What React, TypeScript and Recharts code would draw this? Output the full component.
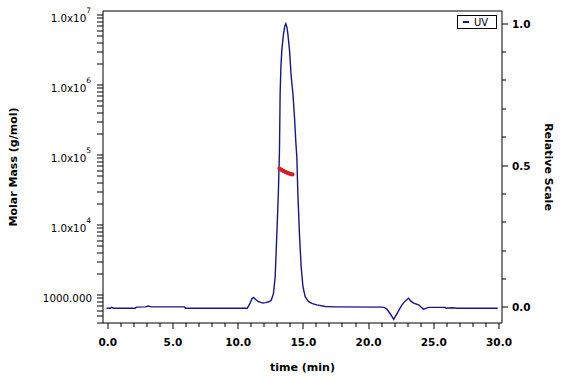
import React from "react";
import { ComposedChart, Line, XAxis, YAxis, ReferenceLine } from "recharts";

// UV trace (time in min, relative scale)
const uvTime = [
  -0.08, 0.2, 0.31, 0.45, 2.1, 2.2, 2.9, 3.1, 3.35, 5.9, 5.95, 10.7, 10.92, 11.05, 11.18,
  11.35, 11.56, 11.9, 12.1, 12.35, 12.53, 12.65, 12.71, 12.84, 12.92, 13.02, 13.09, 13.17,
  13.22, 13.28, 13.35, 13.48, 13.58, 13.66, 13.73, 13.81, 13.94, 14.07, 14.2, 14.32, 14.43,
  14.5, 14.58, 14.7, 14.83, 14.97, 15.14, 15.4, 15.7, 16.04, 16.68, 17.5, 20.99, 21.2, 21.4,
  21.7, 21.92, 22.2, 22.56, 22.8, 23.07, 23.25, 23.45, 23.84, 24.0, 24.2, 24.6, 25.9, 25.95,
  26.4, 26.8, 29.9,
];
const uvValue = [
  -0.003, -0.003, 0.0, -0.003, -0.003, 0.001, 0.002, 0.005, 0.002, 0.002, -0.003, -0.003,
  0.015, 0.03, 0.035, 0.028, 0.02, 0.015, 0.017, 0.02, 0.024, 0.04, 0.05, 0.108, 0.202, 0.32,
  0.414, 0.554, 0.754, 0.848, 0.907, 0.965, 0.992, 1.0, 0.99, 0.965, 0.907, 0.813, 0.754,
  0.672, 0.578, 0.531, 0.402, 0.261, 0.144, 0.073, 0.038, 0.02, 0.013, 0.009, 0.003, 0.002,
  0.001, 0.0, -0.006, -0.025, -0.042, -0.02, 0.009, 0.022, 0.032, 0.022, 0.015, 0.009, 0.002,
  -0.006, 0.0, 0.0, -0.003, -0.001, -0.003, -0.003,
];

// Molar mass points (time in min, g/mol)
const massTime = [13.16, 13.24, 13.32, 13.4, 13.48, 13.56, 13.64, 13.72, 13.8, 13.88, 13.96, 14.04, 14.12, 14.18];
const massValue = [64600, 63000, 61600, 60300, 59200, 58200, 57300, 56400, 55600, 54900, 54200, 53600, 53100, 52800];

// Axis ticks
const xTicks = [0, 1, 2, 3, 4, 5, 6, 7, 8, 9, 10, 11, 12, 13, 14, 15, 16, 17, 18, 19, 20, 21, 22, 23, 24, 25, 26, 27, 28, 29, 30];
const xMajor = [0, 5, 10, 15, 20, 25, 30];
const leftMajor = [1000, 10000, 100000, 1000000, 10000000];
const leftTicks = [
  400, 500, 600, 700, 800, 900, 1000,
  2000, 3000, 4000, 5000, 6000, 7000, 8000, 9000, 10000,
  20000, 30000, 40000, 50000, 60000, 70000, 80000, 90000, 100000,
  200000, 300000, 400000, 500000, 600000, 700000, 800000, 900000, 1000000,
  2000000, 3000000, 4000000, 5000000, 6000000, 7000000, 8000000, 9000000, 10000000,
];
const rightTicks = [0, 0.1, 0.2, 0.3, 0.4, 0.5, 0.6, 0.7, 0.8, 0.9, 1.0];
const rightMajor = [0, 0.5, 1.0];
const rightDomain = [-0.055, 1.045];

const uvData = uvTime.map((t, i) => ({ t, uv: uvValue[i] }));
const massData = massTime.map((t, i) => ({ t, mass: massValue[i] }));

const FONT = "'DejaVu Sans', Verdana, sans-serif";
const BLUE = "#16168c";
const RED = "#e01c1c";
const GAP = 8; // default tickSize (6) + tickMargin (2)

const renderBottomTick = (props: any) => {
  const x = Number(props.x);
  const y = Number(props.y) - GAP;
  const v = Number(props.payload.value);
  const major = xMajor.some((m) => Math.abs(m - v) < 1e-6);
  return (
    <g>
      <rect x={Math.round(x) - 0.5} y={y} width={1} height={major ? 6 : 4} fill="#000" stroke="none" />
      {major ? (
        <text x={x} y={y + 23} textAnchor="middle" fontSize={10.5} fontWeight="bold" fontFamily={FONT} fill="#000">
          {v.toFixed(1)}
        </text>
      ) : null}
    </g>
  );
};

const renderLeftTick = (props: any) => {
  const y = Number(props.y);
  const x = Number(props.x) + GAP;
  const v = Number(props.payload.value);
  const major = leftMajor.some((m) => Math.abs(m - v) < 1e-3);
  const exp = Math.round(Math.log10(v));
  let label: any = null;
  if (major) {
    label =
      v === 1000 ? (
        <text x={x - 11} y={y + 7} textAnchor="end" fontSize={10.3} fontFamily={FONT} fill="#000">
          1000.000
        </text>
      ) : (
        <text x={x - 12} y={y + 7} textAnchor="end" fontSize={10.3} fontFamily={FONT} fill="#000">
          <tspan>1.0x10</tspan>
          <tspan dy={-9} fontSize={7.5}>
            {exp}
          </tspan>
        </text>
      );
  }
  return (
    <g>
      <rect x={x - 6} y={Math.round(y) - 0.5} width={6} height={1} fill="#000" stroke="none" />
      {label}
    </g>
  );
};

const renderRightTick = (props: any) => {
  const y = Number(props.y);
  const x = Number(props.x) - GAP;
  const v = Number(props.payload.value);
  const major = rightMajor.some((m) => Math.abs(m - v) < 1e-6);
  return (
    <g>
      <rect x={x} y={Math.round(y) - 0.5} width={major ? 6 : 4} height={1} fill="#000" stroke="none" />
      {major ? (
        <text x={x + 10} y={y + 4} textAnchor="start" fontSize={10.5} fontWeight="bold" fontFamily={FONT} fill="#000">
          {v.toFixed(1)}
        </text>
      ) : null}
    </g>
  );
};

export default function App() {
  return (
    <div style={{ position: "absolute", left: 0, top: 0, width: 576, height: 384, background: "#fff" }}>
      <ComposedChart width={576} height={384} margin={{ top: 11, right: 0, bottom: 0, left: 0 }}>
        <XAxis
          dataKey="t"
          type="number"
          domain={[-0.36, 30.23]}
          ticks={xTicks}
          interval={0}
          height={61}
          tickLine={false}
          axisLine={{ stroke: "#000" }}
          tick={renderBottomTick}
          label={{
            value: "time (min)",
            position: "insideBottom",
            offset: 13,
            fontSize: 11,
            fontWeight: "bold",
            fontFamily: FONT,
            fill: "#000",
          }}
        />
        <YAxis
          yAxisId="left"
          orientation="left"
          scale="log"
          type="number"
          domain={[398, 11500000]}
          ticks={leftTicks}
          interval={0}
          width={103}
          tickLine={false}
          axisLine={{ stroke: "#000" }}
          tick={renderLeftTick}
          label={{
            value: "Molar Mass (g/mol)",
            angle: -90,
            position: "insideLeft",
            offset: 0,
            dx: 13,
            fontSize: 11,
            fontWeight: "bold",
            fontFamily: FONT,
            fill: "#000",
            style: { textAnchor: "middle" },
          }}
        />
        <YAxis
          yAxisId="right"
          orientation="right"
          type="number"
          domain={rightDomain}
          ticks={rightTicks}
          interval={0}
          width={74}
          tickLine={false}
          axisLine={{ stroke: "#000" }}
          tick={renderRightTick}
          label={{
            value: "Relative Scale",
            angle: 90,
            position: "insideRight",
            offset: 0,
            dx: -27,
            fontSize: 11,
            fontWeight: "bold",
            fontFamily: FONT,
            fill: "#000",
            style: { textAnchor: "middle" },
          }}
        />
        <ReferenceLine yAxisId="right" y={rightDomain[1]} stroke="#000" strokeWidth={1} ifOverflow="visible" />
        <Line
          yAxisId="right"
          data={uvData}
          dataKey="uv"
          name="UV"
          type="linear"
          stroke={BLUE}
          strokeWidth={1.4}
          dot={false}
          isAnimationActive={false}
        />
        <Line
          yAxisId="left"
          data={massData}
          dataKey="mass"
          name="Molar Mass"
          type="linear"
          stroke={RED}
          strokeWidth={2}
          dot={{ r: 1, fill: RED, stroke: RED }}
          legendType="none"
          isAnimationActive={false}
        />
      </ComposedChart>
      <div
        style={{
          position: "absolute",
          left: 457,
          top: 15,
          width: 40,
          height: 14,
          border: "1px solid #000",
          boxSizing: "border-box",
          background: "#fff",
          display: "flex",
          alignItems: "center",
          fontFamily: FONT,
          fontSize: 10,
          color: "#000",
        }}
      >
        <span style={{ display: "inline-block", width: 6, height: 1.5, background: BLUE, marginLeft: 5, marginRight: 5 }} />
        <span>UV</span>
      </div>
    </div>
  );
}
